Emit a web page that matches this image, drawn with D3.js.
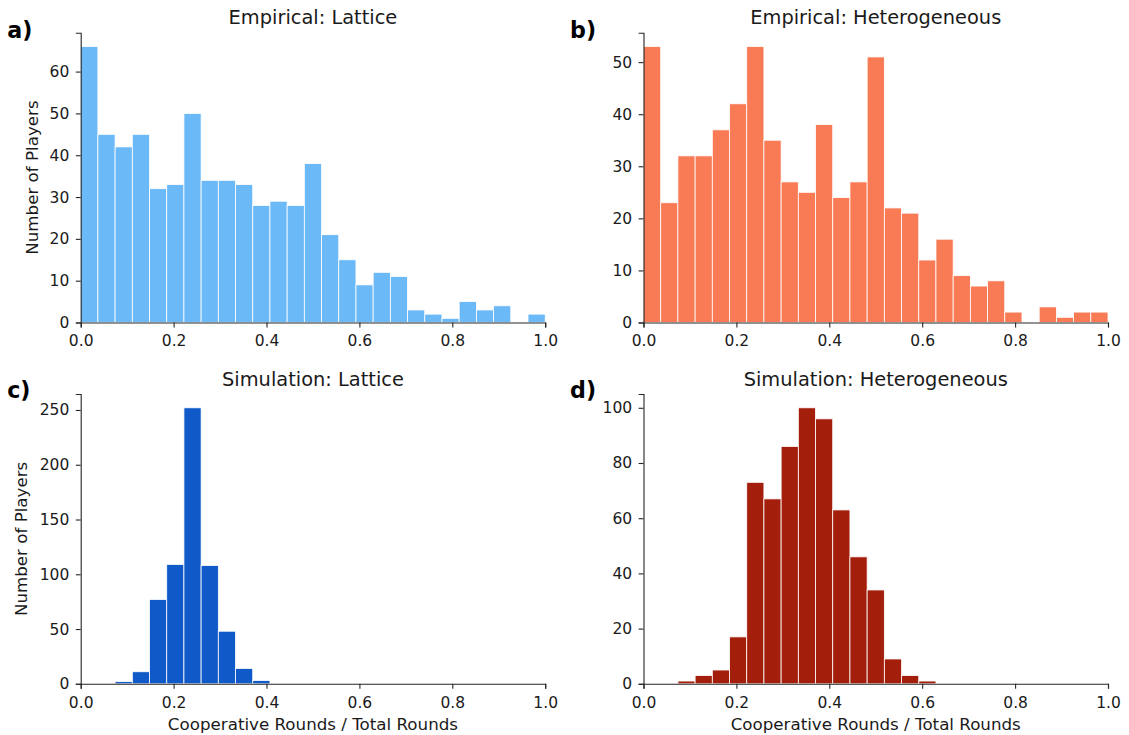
<!doctype html>
<html>
<head>
<meta charset="utf-8">
<title>Cooperation histograms</title>
<script src="https://cdn.jsdelivr.net/npm/d3@7"></script>
<style>
  body { margin: 0; background: #fff; }
  svg { display: block; font-family: "DejaVu Sans", sans-serif; }
  .tick line, .domain { stroke: #262626; stroke-width: 1.1px; }
</style>
</head>
<body>
<svg id="chart" width="1129" height="735"></svg>
<script>
// histogram bins: 27 equal bins over [0, 1]
var binCount = 27;

var countsEmpLattice = [66, 45, 42, 45, 32, 33, 50, 34, 34, 33, 28, 29, 28, 38, 21, 15, 9, 12, 11, 3, 2, 1, 5, 3, 4, 0, 2];
var countsEmpHetero  = [53, 23, 32, 32, 37, 42, 53, 35, 27, 25, 38, 24, 27, 51, 22, 21, 12, 16, 9, 7, 8, 2, 0, 3, 1, 2, 2];
var countsSimLattice = [0, 0, 2, 11, 77, 109, 252, 108, 48, 14, 3, 0, 0, 0, 0, 0, 0, 0, 0, 0, 0, 0, 0, 0, 0, 0, 0];
var countsSimHetero  = [0, 0, 1, 3, 5, 17, 73, 67, 86, 100, 96, 63, 46, 34, 9, 3, 1, 0, 0, 0, 0, 0, 0, 0, 0, 0, 0];

var xTicks = [0, 0.2, 0.4, 0.6, 0.8, 1.0];
var yTicksA = [0, 10, 20, 30, 40, 50, 60];
var yTicksB = [0, 10, 20, 30, 40, 50];
var yTicksC = [0, 50, 100, 150, 200, 250];
var yTicksD = [0, 20, 40, 60, 80, 100];

var panels = [
  { letter: "a)", title: "Empirical: Lattice", counts: countsEmpLattice, yTicks: yTicksA, color: "#6cb9f8",
    left: 80.7, top: 32.7, letterDy: 5, ylabel: true, xlabel: false },
  { letter: "b)", title: "Empirical: Heterogeneous", counts: countsEmpHetero, yTicks: yTicksB, color: "#f87b56",
    left: 643.5, top: 32.7, letterDy: 5, ylabel: false, xlabel: false },
  { letter: "c)", title: "Simulation: Lattice", counts: countsSimLattice, yTicks: yTicksC, color: "#1059c8",
    left: 80.7, top: 394, letterDy: 3.5, ylabel: true, xlabel: true },
  { letter: "d)", title: "Simulation: Heterogeneous", counts: countsSimHetero, yTicks: yTicksD, color: "#a31f0c",
    left: 643.5, top: 394, letterDy: 3.5, ylabel: false, xlabel: true }
];

var W = 464.5, H = 289.8;
var svg = d3.select("#chart");

function styleAxis(a) {
  a.attr("font-family", "DejaVu Sans").attr("font-size", 15.5);
  a.selectAll("text").attr("fill", "#1a1a1a");
}

panels.forEach(function(p) {
  var g = svg.append("g").attr("transform", "translate(" + p.left + "," + p.top + ")");

  var x = d3.scaleLinear().domain([0, 1]).range([0, W]);
  var y = d3.scaleLinear().domain([0, d3.max(p.counts) * 1.05]).range([H, 0]);

  var bins = p.counts.map(function(c, i) {
    return { x0: i / binCount, x1: (i + 1) / binCount, n: c };
  }).filter(function(d) { return d.n > 0; });

  g.selectAll("rect").data(bins).enter().append("rect")
    .attr("x", function(d) { return x(d.x0); })
    .attr("width", function(d) { return x(d.x1) - x(d.x0); })
    .attr("y", function(d) { return y(d.n); })
    .attr("height", function(d) { return H - y(d.n); })
    .attr("fill", p.color)
    .attr("stroke", "#fff")
    .attr("stroke-width", 0.8);

  g.append("g").attr("transform", "translate(0," + H + ")")
    .call(d3.axisBottom(x).tickValues(xTicks).tickFormat(d3.format(".1f"))
      .tickSizeOuter(0).tickSize(4.9).tickPadding(8))
    .call(styleAxis);

  g.append("g")
    .call(d3.axisLeft(y).tickValues(p.yTicks).tickSizeOuter(0).tickSize(4.9).tickPadding(6.5))
    .call(styleAxis);

  g.append("text")
    .attr("x", W / 2).attr("y", -8.3)
    .attr("text-anchor", "middle")
    .attr("font-size", "19.4px")
    .attr("fill", "#1a1a1a")
    .text(p.title);

  svg.append("text")
    .attr("x", p.left - 73.5).attr("y", p.top + p.letterDy)
    .attr("font-size", "22.2px").attr("font-weight", "bold")
    .text(p.letter);

  if (p.ylabel) {
    var off = p.yTicks[p.yTicks.length - 1] >= 100 ? -53.5 : -43;
    g.append("text")
      .attr("transform", "translate(" + off + "," + (H / 2) + ") rotate(-90)")
      .attr("text-anchor", "middle")
      .attr("font-size", "16.7px")
      .attr("fill", "#1a1a1a")
      .text("Number of Players");
  }
  if (p.xlabel) {
    g.append("text")
      .attr("x", W / 2).attr("y", H + 46)
      .attr("text-anchor", "middle")
      .attr("font-size", "16.7px")
      .attr("fill", "#1a1a1a")
      .text("Cooperative Rounds / Total Rounds");
  }
});
</script>
</body>
</html>
